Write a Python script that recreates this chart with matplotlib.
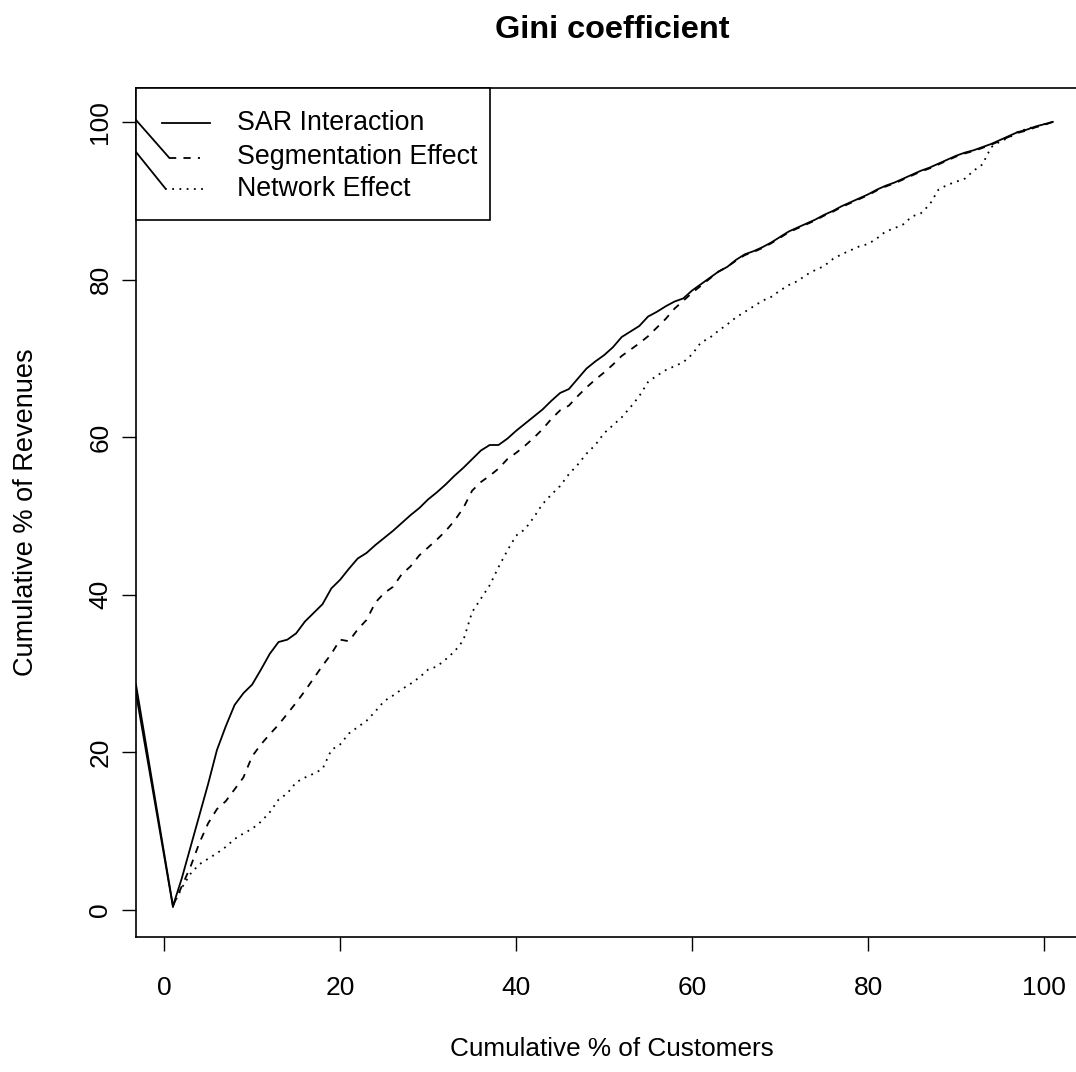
import matplotlib
matplotlib.use("Agg")
import matplotlib.pyplot as plt
from matplotlib.patches import Rectangle

plt.rcParams['font.family'] = ['Liberation Sans', 'DejaVu Sans']

# cumulative % of customers
customers = list(range(1, 102))

sar_interaction = [
    0.5, 4.0, 8.0, 12.0, 16.0, 20.3, 23.3, 26.0, 27.5, 28.6,
    30.5, 32.5, 34.0, 34.3, 35.1, 36.6, 37.7, 38.8, 40.8, 41.9,
    43.3, 44.6, 45.3, 46.3, 47.2, 48.1, 49.1, 50.1, 51.0, 52.1,
    53.0, 54.0, 55.1, 56.1, 57.2, 58.3, 59.0, 59.0, 59.8, 60.8,
    61.7, 62.6, 63.5, 64.6, 65.6, 66.1, 67.4, 68.7, 69.6, 70.4,
    71.4, 72.7, 73.4, 74.1, 75.3, 75.9, 76.6, 77.2, 77.6, 78.6,
    79.4, 80.2, 81.0, 81.6, 82.5, 83.2, 83.6, 84.1, 84.7, 85.4,
    86.1, 86.6, 87.1, 87.6, 88.2, 88.7, 89.3, 89.8, 90.3, 90.8,
    91.4, 91.9, 92.3, 92.8, 93.3, 93.8, 94.2, 94.7, 95.2, 95.7,
    96.1, 96.4, 96.8, 97.2, 97.7, 98.2, 98.7, 99.0, 99.4, 99.7,
    100.0]

segmentation_effect = [
    0.5, 3.0, 5.5, 8.5, 11.0, 12.8, 13.8, 15.3, 16.8, 19.5,
    21.0, 22.3, 23.5, 24.9, 26.3, 27.8, 29.4, 31.0, 32.5, 34.3,
    34.1, 35.6, 36.8, 39.0, 40.2, 41.0, 42.6, 43.6, 45.0, 46.0,
    47.0, 48.1, 49.4, 51.0, 53.2, 54.3, 55.1, 56.0, 57.2, 58.0,
    58.9, 59.9, 61.0, 62.3, 63.4, 64.0, 65.2, 66.3, 67.3, 68.2,
    69.2, 70.3, 71.1, 71.9, 72.8, 73.9, 75.0, 76.3, 77.3, 78.3,
    79.2, 80.1, 81.0, 81.6, 82.4, 83.1, 83.5, 84.0, 84.6, 85.3,
    86.0, 86.5, 87.0, 87.5, 88.1, 88.6, 89.2, 89.7, 90.2, 90.7,
    91.3, 91.8, 92.2, 92.7, 93.2, 93.7, 94.1, 94.6, 95.1, 95.6,
    96.0, 96.3, 96.7, 97.1, 97.6, 98.1, 98.6, 98.9, 99.3, 99.6,
    100.0]

network_effect = [
    0.5, 2.8, 4.6, 5.8, 6.5, 7.2, 8.0, 9.0, 9.7, 10.3,
    11.2, 12.4, 14.0, 14.8, 16.2, 16.8, 17.3, 17.9, 20.3, 21.0,
    22.4, 23.2, 24.0, 25.2, 26.5, 27.2, 28.0, 28.7, 29.5, 30.5,
    30.9, 31.8, 32.8, 34.2, 37.8, 39.5, 41.2, 43.5, 45.6, 47.5,
    48.3, 49.8, 51.5, 52.7, 53.8, 55.3, 56.5, 57.9, 59.0, 60.5,
    61.5, 62.5, 63.8, 65.2, 67.0, 67.8, 68.5, 69.0, 69.5, 70.5,
    72.0, 72.6, 73.5, 74.3, 75.2, 75.9, 76.6, 77.3, 77.8, 78.6,
    79.3, 79.8, 80.6, 81.2, 81.7, 82.6, 83.2, 83.7, 84.2, 84.5,
    85.2, 86.1, 86.5, 87.0, 88.0, 88.4, 89.5, 91.4, 92.0, 92.4,
    92.8, 93.8, 94.6, 96.8, 97.5, 98.0, 98.7, 99.1, 99.4, 99.7,
    100.0]

# stray lead-in segments entering from the left edge
lead_x = [-3.2, 1.0]
lead_y_a = [28.6, 0.5]
lead_y_b = [27.5, 0.4]

series_names = ["SAR Interaction", "Segmentation Effect", "Network Effect"]
dash_styles = ["-", (0, (4, 4)), (0, (1, 3))]

W, H = 1076, 1072
L, R, T, B = 136, 1088, 88, 937   # plot box in pixels (right edge cropped)
fig = plt.figure(figsize=(W / 100, H / 100), dpi=100)
ax = fig.add_axes([L / W, (H - B) / H, (R - L) / W, (B - T) / H])


def fx(px):
    return (px - L) / (R - L)


def fy(py):
    return (B - py) / (B - T)


lw = 1.3
for ys, ls in zip([sar_interaction, segmentation_effect, network_effect], dash_styles):
    ax.plot(customers, ys, color="black", linewidth=lw, linestyle=ls)
ax.plot(lead_x, lead_y_a, color="black", linewidth=lw)
ax.plot(lead_x, lead_y_b, color="black", linewidth=lw)

ax.set_xlim(-3.2, 105.0)
ax.set_ylim(-3.43, 104.3)
ax.set_xticks([0, 20, 40, 60, 80, 100])
ax.set_yticks([0, 20, 40, 60, 80, 100])
ax.tick_params(direction="out", length=10, width=1.0, labelsize=19, color="black")
ax.tick_params(axis="x", pad=18)
ax.tick_params(axis="y", pad=7, labelrotation=90)
for lab in ax.get_yticklabels():
    lab.set_va("center")
for sp in ax.spines.values():
    sp.set_linewidth(1.2)

# legend box drawn by hand (R style, topleft)
ax.add_patch(Rectangle((0, fy(220)), fx(490), 1 - fy(220), transform=ax.transAxes,
                       facecolor="white", edgecolor="black", linewidth=1.2,
                       zorder=5, clip_on=False))
row_y = [123, 157.5, 188.5]
sample_x = [(162, 210), (169, 200), (165, 205)]
for name, ls, ry, (x0, x1) in zip(series_names, dash_styles, row_y, sample_x):
    ax.plot([fx(x0), fx(x1)], [fy(ry), fy(ry)], transform=ax.transAxes,
            color="black", linewidth=lw, linestyle=ls, zorder=6, clip_on=False)
    ax.text(fx(237), fy(ry), name, transform=ax.transAxes, fontsize=19.3,
            ha="left", va="center", zorder=6)
# diagonal strokes inside the legend
ax.plot([0, fx(169)], [fy(120), fy(157.5)], transform=ax.transAxes,
        color="black", linewidth=lw, zorder=6)
ax.plot([0, fx(165)], [fy(152), fy(188)], transform=ax.transAxes,
        color="black", linewidth=lw, zorder=6)

cx = (L + R) / 2 / W
fig.text(cx, 1 - 30 / H, "Gini coefficient", ha="center", va="center",
         fontsize=23.4, fontweight="bold")
fig.text(cx, 1 - 1049 / H, "Cumulative % of Customers", ha="center",
         va="center", fontsize=18.8)
fig.text(26 / W, 1 - 512 / H, "Cumulative % of Revenues", ha="center",
         va="center", rotation=90, fontsize=19.5)

fig.savefig("out.png", dpi=100)
